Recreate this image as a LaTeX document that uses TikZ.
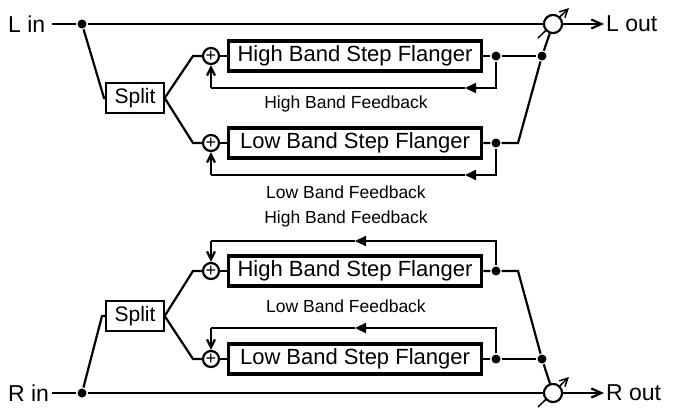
\documentclass[tikz,border=0pt]{standalone}
\usepackage{fontspec}
\setmainfont{Liberation Sans}
\usetikzlibrary{arrows.meta}
\begin{document}
\begin{tikzpicture}[x=1pt,y=-1pt,line width=2.2pt,
  fl/.style={draw,line width=3.8pt,minimum width=253pt,minimum height=30pt,inner sep=0pt,font=\fontsize{22}{22}\selectfont},
  sp/.style={draw,line width=1.3pt,minimum width=58pt,minimum height=30pt,inner sep=0pt,font=\fontsize{21}{21}\selectfont},
  pl/.style={draw,circle,minimum size=16pt,inner sep=0pt,line width=2.2pt,font=\fontsize{18}{18}\selectfont},
  mx/.style={draw,circle,minimum size=18pt,inner sep=0pt,line width=2pt,fill=white},
  io/.style={font=\fontsize{23}{23}\selectfont,inner sep=1pt},
  lb/.style={font=\fontsize{17.5}{17.5}\selectfont},
  dot/.style={circle,fill,inner sep=0pt,minimum size=9pt},
  tri/.style={-{Triangle[length=11pt,width=10pt]}},
  ar/.style={-{Straight Barb[length=8pt,width=8pt]}}]
\useasboundingbox (0,0) rectangle (674,407);
% ---------- top (L) ----------
\node[io,anchor=west] (lin) at (6,24) {L in};
\node[io,anchor=west] (lout) at (604,24) {L out};
\coordinate (lin1) at (52,24);
\node[dot] (j1) at (82,24) {};
\node[sp] (s1) at (135,98) {Split};
\node[pl] (p1) at (211,56) {+};
\node[pl] (p2) at (211,143) {+};
\node[fl] (h1) at (355,56) {High Band Step Flanger};
\node[fl] (l1) at (355,143) {Low Band Step Flanger};
\node[dot] (hd1) at (496,56) {};
\node[dot] (ld1) at (496,143) {};
\node[dot] (m1) at (542,56) {};
\node[mx] (x1) at (553,24) {};
\draw (lin1) -- (j1) -- (x1);
\draw[-{Straight Barb[length=10pt,width=9pt]}] (x1) -- (lout);
\draw (j1) -- (104,98) -- (s1.west);
\draw (s1.east) -- (193,56) -- (p1);
\draw (s1.east) -- (193,143) -- (p2);
\draw (p1) -- (h1); \draw (p2) -- (l1);
\draw (h1) -- (hd1) -- (m1);
\draw (l1) -- (ld1) -- (518,143) -- (m1) -- (x1);
\draw[tri] (hd1) -- (496,88) -- (465,88);
\draw (465,88) -- (211,88) coordinate (f1);
\draw[ar] (f1) -- (p1);
\draw[tri] (ld1) -- (496,175) -- (465,175);
\draw (465,175) -- (211,175) coordinate (f2);
\draw[ar] (f2) -- (p2);
\node[lb] (t1) at (346,104) {High Band Feedback};
\node[lb] (t2) at (346,192) {Low Band Feedback};
\draw[line width=1.5pt,-{Straight Barb[length=8pt,width=8pt]}] (538,38) -- (569,8);
\node[mx] at (553,24) {};
% ---------- bottom (R) ----------
\node[io,anchor=west] (rin) at (6,393) {R in};
\node[io,anchor=west] (rout) at (604,393) {R out};
\coordinate (rin1) at (52,393);
\node[dot] (j2) at (82,393) {};
\node[sp] (s2) at (135,316) {Split};
\node[pl] (p3) at (211,271) {+};
\node[pl] (p4) at (211,359) {+};
\node[fl] (h2) at (355,271) {High Band Step Flanger};
\node[fl] (l2) at (355,359) {Low Band Step Flanger};
\node[dot] (hd2) at (496,271) {};
\node[dot] (ld2) at (496,359) {};
\node[dot] (m2) at (542,359) {};
\node[mx] (x2) at (553,393) {};
\draw (rin1) -- (j2) -- (x2);
\draw[-{Straight Barb[length=10pt,width=9pt]}] (x2) -- (rout);
\draw (j2) -- (102,316) -- (s2.west);
\draw (s2.east) -- (193,271) -- (p3);
\draw (s2.east) -- (193,359) -- (p4);
\draw (p3) -- (h2); \draw (p4) -- (l2);
\draw (h2) -- (hd2) -- (518,271) -- (m2) -- (x2);
\draw (l2) -- (ld2) -- (m2);
\draw[tri] (hd2) -- (496,241) -- (355,241);
\draw (355,241) -- (211,241) coordinate (f3);
\draw[ar] (f3) -- (p3);
\draw[tri] (ld2) -- (496,328) -- (355,328);
\draw (355,328) -- (211,328) coordinate (f4);
\draw[ar] (f4) -- (p4);
\node[lb] (t3) at (346,219) {High Band Feedback};
\node[lb] (t4) at (346,306) {Low Band Feedback};
\draw[line width=1.5pt,-{Straight Barb[length=8pt,width=8pt]}] (538,407) -- (569,377);
\node[mx] at (553,393) {};
\end{tikzpicture}
\end{document}
